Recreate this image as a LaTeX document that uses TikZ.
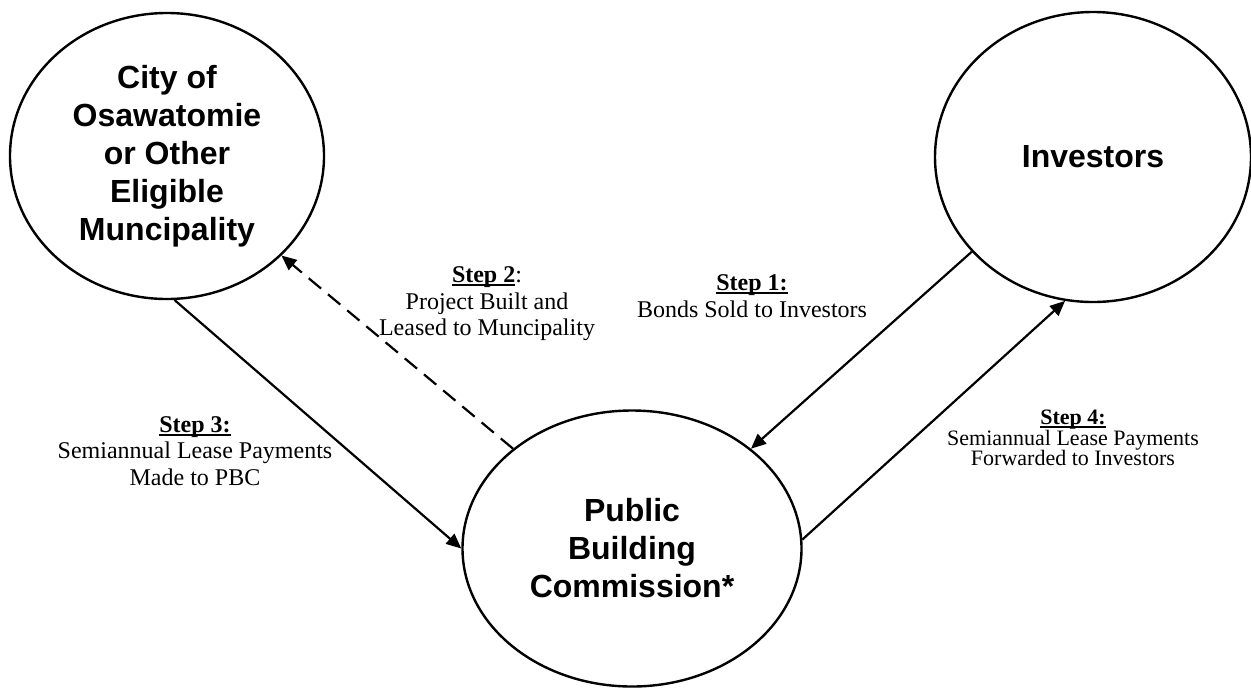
\documentclass[tikz,border=0pt]{standalone}
\usepackage{fontspec}
\setmainfont{Liberation Serif}
\newfontfamily\partyfont{Liberation Sans}
\usetikzlibrary{shapes.geometric,arrows.meta}
% bold step heading with a rule just under the baseline
\newcommand\steptitle[1]{\textbf{\setbox0\hbox{#1}\rlap{\rule[-1.7pt]{\wd0}{0.9pt}}\box0}}
\begin{document}
\begin{tikzpicture}[x=0.5pt,y=-0.5pt,
  party/.style={ellipse, draw, line width=1.2pt, inner sep=0pt, align=center,
    font=\partyfont\bfseries\fontsize{16}{19}\selectfont},
  flow/.style={line width=1.1pt, -{Triangle[length=7.5pt,width=6.5pt]}},
  leasedash/.style={dash pattern=on 8pt off 4.5pt},
  steplabel/.style={align=center, inner sep=0pt, font=\fontsize{12}{13.3}\selectfont}]
\useasboundingbox (0,0) rectangle (1251,687);

% the three parties
\node[party, minimum width=157pt, minimum height=143pt] (city) at (167,156)
  {City of\\Osawatomie\\or Other\\Eligible\\Muncipality};
\node[party, minimum width=158pt, minimum height=145pt] (inv) at (1093,157) {Investors};
\node[party, minimum width=169.5pt, minimum height=138pt] (pbc) at (632,548.5)
  {Public\\Building\\Commission*};

% cash and lease flows
\draw[flow] (inv.218) -- (pbc.40);
\draw[flow] (pbc.3) -- (inv.259);
\draw[flow] (city.-87) -- (pbc.west);
\draw[flow, leasedash] (pbc.140) -- (city.-41);

% step labels
\node[steplabel] (s1) at (752,296)
  {\steptitle{Step 1:}\\Bonds Sold to Investors};
\node[steplabel] (s2) at (487,304)
  {\steptitle{Step 2}:\\Project Built and\\Leased to Muncipality};
\node[steplabel] (s3) at (195,451)
  {\steptitle{Step 3:}\\Semiannual Lease Payments\\Made to PBC};
\node[steplabel, font=\fontsize{11}{10.3}\selectfont] (s4) at (1073,438)
  {\steptitle{Step 4:}\\Semiannual Lease Payments\\Forwarded to Investors};
\end{tikzpicture}
\end{document}
